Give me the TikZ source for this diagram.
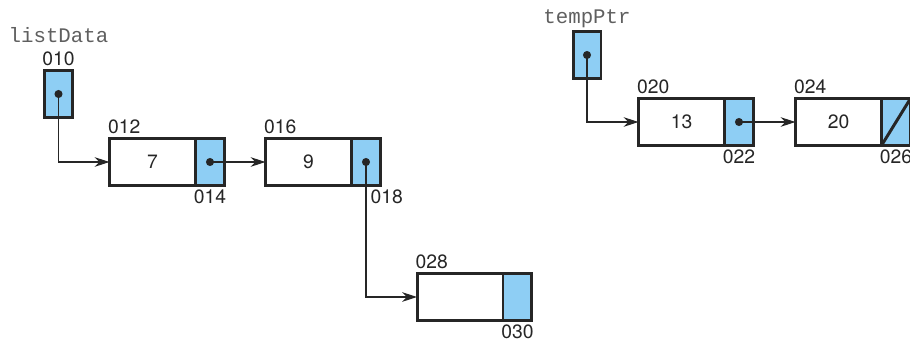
\documentclass[tikz,border=0pt]{standalone}
\usepackage{fontspec}
\setmainfont{TeX Gyre Heros}
\setmonofont{Liberation Mono}
\usepackage{tikz}
\usetikzlibrary{positioning, arrows.meta}
\definecolor{ptrFill}{RGB}{142, 206, 244}
\definecolor{edgeGray}{RGB}{38, 38, 38}
\definecolor{varGray}{RGB}{95, 95, 95}

\begin{document}
\begin{tikzpicture}[x=0.02cm, y=-0.02cm, >={Stealth[length=8.5pt, width=5.5pt]},
  font=\fontsize{11}{13}\selectfont, text=edgeGray,
  info/.style={draw=edgeGray, line width=1.7pt, fill=white, minimum width=1.72cm,
               minimum height=0.94cm, inner sep=0pt, outer sep=0pt},
  link/.style={draw=edgeGray, line width=1.7pt, fill=ptrFill, minimum width=0.58cm,
               minimum height=0.94cm, inner sep=0pt, outer sep=0pt},
  addr/.style={inner sep=2.5pt},
  var/.style={font=\ttfamily\fontsize{11.8}{13}\selectfont, text=varGray, inner sep=2pt},
  wire/.style={->, draw=edgeGray, line width=0.6pt}]
  \useasboundingbox (0,0) rectangle (910,342);
  \clip (0,0) rectangle (910,342);

  % External pointer listData
  \node[link, minimum width=0.56cm] (p10) at (58.5,94) {};
  \node[addr, anchor=south] (a10) at (p10.north) {010};
  \node[var, anchor=south] (listData) at (a10.north) {listData};

  % Node 012
  \node[info] (d12) at (152.5,162) {7};
  \node[link, right=0pt of d12] (p14) {};
  \node[addr, anchor=south west, inner xsep=0pt, xshift=-1pt] (a12) at (d12.north west) {012};
  \node[addr, anchor=north] (a14) at (p14.south) {014};

  % Node 016
  \node[info] (d16) at (308.5,162) {9};
  \node[link, right=0pt of d16] (p18) {};
  \node[addr, anchor=south west, inner xsep=0pt, xshift=-1pt] (a16) at (d16.north west) {016};
  \node[addr, anchor=north west] (a18) at (p18.south) {018};

  % Node 028
  \node[info] (d28) at (460,297) {};
  \node[link, right=0pt of d28] (p30) {};
  \node[addr, anchor=south west, inner xsep=0pt, xshift=-1pt] (a28) at (d28.north west) {028};
  \node[addr, anchor=north] (a30) at (p30.south) {030};

  % External pointer tempPtr
  \node[link, minimum width=0.56cm] (tp) at (587,55) {};
  \node[var, anchor=south] (tempPtr) at (tp.north) {tempPtr};

  % Node 020
  \node[info] (d20) at (681.5,122) {13};
  \node[link, right=0pt of d20] (p22) {};
  \node[addr, anchor=south west, inner xsep=0pt, xshift=-1pt] (a20) at (d20.north west) {020};
  \node[addr, anchor=north] (a22) at (p22.south) {022};

  % Node 024 (null link)
  \node[info] (d24) at (838.5,122) {20};
  \node[link, right=0pt of d24] (p26) {};
  \node[addr, anchor=south west, inner xsep=0pt, xshift=-1pt] (a24) at (d24.north west) {024};
  \node[addr, anchor=north] (a26) at (p26.south) {026};
  \draw[edgeGray, line width=1.7pt] (p26.south west) -- (p26.north east);

  % Links
  \draw[wire] (p10.center) |- (d12);
  \draw[wire] (p14.center) -- (d16);
  \draw[wire] (p18.center) |- (d28);
  \draw[wire] (tp.center) |- (d20);
  \draw[wire] (p22.center) -- (d24);

  % Pointer dots
  \foreach \p in {p10, p14, p18, tp, p22}
    \fill[edgeGray] (\p.center) circle (2.3pt);
\end{tikzpicture}
\end{document}
